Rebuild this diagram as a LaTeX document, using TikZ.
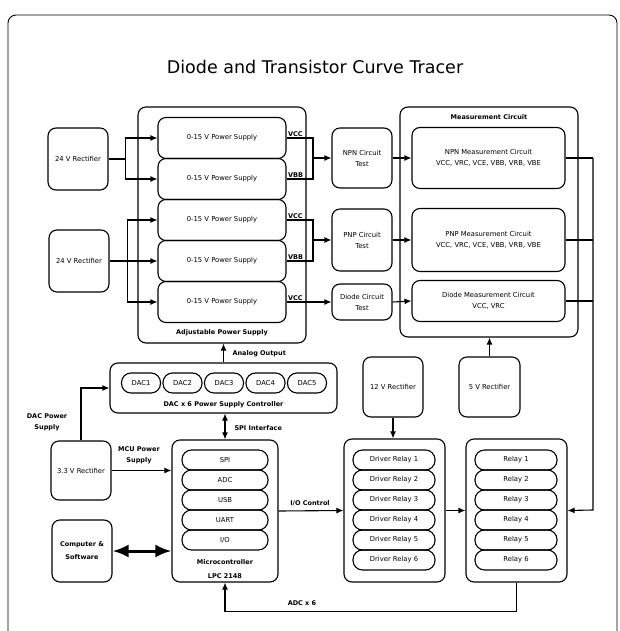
\documentclass[tikz,border=0pt]{standalone}
\usepackage{fontspec}
\setmainfont{DejaVu Sans}
\usetikzlibrary{arrows.meta,calc}
\begin{document}
\begin{tikzpicture}[x=1pt,y=-1pt,line width=1.1pt,
  blk/.style={draw,rounded corners=8pt,inner sep=0pt,align=center,
    font=\fontsize{6.8}{11}\selectfont},
  pill/.style={draw,rounded corners=9.5pt,inner sep=0pt,minimum height=20pt,
    align=center,font=\fontsize{6.8}{8}\selectfont},
  lbl/.style={font=\bfseries\fontsize{6.5}{11}\selectfont,align=center,inner sep=1pt},
  vlbl/.style={font=\bfseries\fontsize{6.5}{8}\selectfont,inner sep=1pt,anchor=south west},
  arr/.style={-{Latex[length=7pt,width=6pt]}},
  darr/.style={{Latex[length=7pt,width=6pt]}-{Latex[length=7pt,width=6pt]}},
]
\clip (0,0) rectangle (619,631);
\useasboundingbox (0,0) rectangle (619,631);

% outer frame
\draw[line width=0.9pt,rounded corners=8pt] (8,660) -- (8,15) -- (617,15) -- (617,660);

% title
\node[font=\fontsize{17.5}{20}\selectfont] (title) at (315,67) {Diode and Transistor Curve Tracer};

% rectifiers feeding the adjustable supplies
\node[blk,minimum width=60pt,minimum height=62pt] (r24a) at (78,159) {24 V Rectifier};
\node[blk,minimum width=60pt,minimum height=62pt] (r24b) at (79,261) {24 V Rectifier};

% adjustable power supply
\node[blk,minimum width=168pt,minimum height=236pt] (adj) at (222,225) {};
\node[lbl] (adjlbl) at (222,333) {Adjustable Power Supply};
\foreach \y [count=\i] in {138,179,220,261,302}
  \node[blk,minimum width=128pt,minimum height=41pt] (ps\i) at (222,\y) {0-15 V Power Supply};

% supply outputs
\node[vlbl] at (ps1.east) {VCC};
\node[vlbl] at (ps2.east) {VBB};
\node[vlbl] at (ps3.east) {VCC};
\node[vlbl] at (ps4.east) {VBB};
\node[vlbl] at (ps5.east) {VCC};

% circuit tests
\node[blk,minimum width=60pt,minimum height=60pt] (npnT) at (362,158) {NPN Circuit\\Test};
\node[blk,minimum width=60pt,minimum height=62pt] (pnpT) at (362,240) {PNP Circuit\\Test};
\node[blk,minimum width=60pt,minimum height=36pt] (dioT) at (362,302) {Diode Circuit\\Test};

% measurement circuit
\node[blk,minimum width=178pt,minimum height=230pt] (meas) at (489,222) {};
\node[lbl] (measlbl) at (489,117) {Measurement Circuit};
\node[blk,minimum width=153pt,minimum height=61pt] (npnM) at (488.5,158)
  {NPN Measurement Circuit\\VCC, VRC, VCE, VBB, VRB, VBE};
\node[blk,minimum width=153pt,minimum height=63pt] (pnpM) at (488.5,240)
  {PNP Measurement Circuit\\VCC, VRC, VCE, VBB, VRB, VBE};
\node[blk,minimum width=153pt,minimum height=41pt] (dioM) at (488.5,301)
  {Diode Measurement Circuit\\VCC, VRC};

% low-voltage rectifiers
\node[blk,minimum width=60pt,minimum height=60pt] (r12) at (393,387) {12 V Rectifier};
\node[blk,minimum width=61pt,minimum height=60pt] (r5) at (489.5,387) {5 V Rectifier};
\node[blk,minimum width=60pt,minimum height=59pt] (r33) at (81,470.5) {3.3 V Rectifier};

% DAC controller
\node[blk,minimum width=227pt,minimum height=50pt] (dac) at (223.5,388) {};
\foreach \i in {1,...,5}
  \node[pill,minimum width=39pt] (dac\i) at (99.5+41.5*\i,383) {DAC\i};
\node[lbl] (daclbl) at (223.5,405) {DAC x 6 Power Supply Controller};

% microcontroller
\node[blk,minimum width=106pt,minimum height=142pt] (mcu) at (225,511) {};
\foreach \t [count=\i] in {SPI,ADC,USB,UART,I/O}
  \node[pill,minimum width=86pt] (mcu\i) at (225,440+20*\i) {\t};
\node[lbl,font=\bfseries\fontsize{6.5}{14}\selectfont] (mculbl) at (225,569) {Microcontroller\\LPC 2148};

% relay drivers and relays
\node[blk,minimum width=101pt,minimum height=143pt] (drv) at (394.5,510.5) {};
\foreach \i in {1,...,6}
  \node[pill,minimum width=82pt] (drv\i) at (394,440+20*\i) {Driver Relay \i};
\node[blk,minimum width=101pt,minimum height=143pt] (rel) at (516.5,510.5) {};
\foreach \i in {1,...,6}
  \node[pill,minimum width=82pt] (rel\i) at (516,440+20*\i) {Relay \i};

% computer
\node[blk,font=\bfseries\fontsize{6.5}{13}\selectfont,minimum width=60pt,minimum height=62pt] (comp) at (82,551) {Computer \&\\Software};

% rectifier feeds
\draw[arr] (r24a.east) -- ++(17,0) |- (ps1.west);
\draw[arr] (r24a.east) -- ++(17,0) |- (ps2.west);
\draw[arr] (r24b.east) -- (ps4.west);
\draw[arr] (r24b.east) -- ++(18,0) |- (ps3.west);
\draw[arr] (r24b.east) -- ++(18,0) |- (ps5.west);

% supply pairs into tests
\coordinate (npnJ) at (313,158);
\coordinate (pnpJ) at (313,240);
\draw (ps1.east) -| (npnJ) |- (ps2.east);
\draw[arr] (npnJ) -- (npnT.west);
\draw (ps3.east) -| (pnpJ) |- (ps4.east);
\draw[arr] (pnpJ) -- (pnpT.west);
\draw[arr] (ps5.east) -- (dioT.west);

% tests into measurement
\draw[arr] (npnT.east) -- (npnM.west);
\draw[arr] (pnpT.east) -- (pnpM.west);
\draw[arr] (dioT.east) -- (dioM.west);

% measurement bus to relays
\coordinate (busTop) at (593,158);
\coordinate (busBot) at (593,510);
\draw (npnM.east) -- (busTop);
\draw (pnpM.east) -- (pnpM.east -| busTop);
\draw (dioM.east) -- (dioM.east -| busTop);
\draw[arr] (busTop) -- (busBot) -- (rel.east);

% power connections
\draw[arr] (r5.north) -- (r5.north |- meas.south);
\draw[arr] (r12.south) -- (r12.south |- drv.north);
\draw[arr] (r33.east) -- (r33.east -| mcu.west);
\node[lbl] (mcupwr) at (139,455) {MCU Power\\Supply};
\draw[arr] (r33.north) |- (dac.west);
\node[lbl] (dacpwr) at (47,422) {DAC Power\\Supply};

% controller links
\draw[arr] (dac.north) -- (dac.north |- adj.south);
\node[lbl,anchor=west] (anlbl) at (231,354) {Analog Output};
\draw[darr] (mcu.north |- dac.south) -- (mcu.north);
\node[lbl,anchor=west] (spilbl) at (233,428) {SPI Interface};
\draw[arr] (mcu.east) -- (drv.west);
\node[lbl] (iolbl) at (310,503) {I/O Control};
\draw[arr] (drv.east) -- (rel.east -| rel.west);
\draw[arr] (rel.south) -- ++(0,29) -| (mcu.south);
\node[lbl] (adclbl) at (302,603) {ADC x 6};

% computer link
\draw[line width=3pt,{Latex[length=16pt,width=13pt]}-{Latex[length=16pt,width=13pt]}]
  (comp.east) -- (comp.east -| mcu.west);
\end{tikzpicture}
\end{document}
